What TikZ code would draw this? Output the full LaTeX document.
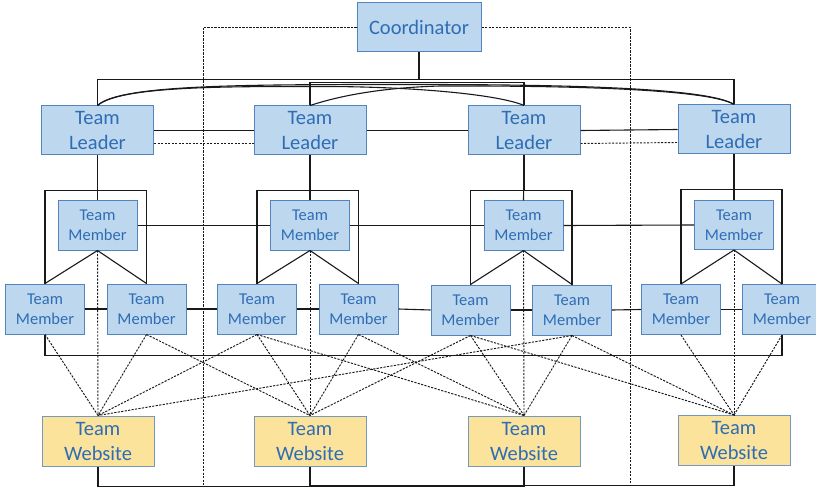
\documentclass[tikz,border=0pt]{standalone}
\usepackage{fontspec}
\setmainfont{Carlito}
\usetikzlibrary{calc}

\definecolor{boxfill}{HTML}{BDD7EE}
\definecolor{boxline}{HTML}{5384BE}
\definecolor{webfill}{HTML}{FCE39B}
\definecolor{webline}{HTML}{7598BF}
\definecolor{labelblue}{HTML}{2E6DB5}

\tikzset{
  box/.style={draw=boxline, line width=1pt, fill=boxfill, text=labelblue,
    align=center, inner sep=0pt, minimum height=49pt},
  bigbox/.style={box, minimum width=112pt, font=\fontsize{20.5}{25}\selectfont},
  memberbox/.style={box, minimum width=79pt, minimum height=50pt,
    font=\fontsize{16.5}{20}\selectfont},
  sitebox/.style={bigbox, fill=webfill, draw=webline, minimum height=50pt},
  link/.style={line width=1.1pt, black!90},
  dotlink/.style={line width=0.95pt, black!90, dash pattern=on 2.2pt off 1.3pt},
}

\begin{document}
\begin{tikzpicture}[x=1pt, y=-1pt]
\useasboundingbox (0,0) rectangle (816,489);

% coordinator
\node[bigbox, minimum width=124pt] (coord) at (419,27.5) {Coordinator};

% team leaders
\node[bigbox] (tl1) at (97.5,130.5) {Team\\Leader};
\node[bigbox] (tl2) at (310,130.5) {Team\\Leader};
\node[bigbox] (tl3) at (524,130.5) {Team\\Leader};
\node[bigbox] (tl4) at (734,129.5) {Team\\Leader};

% upper team members
\node[memberbox, minimum height=49pt] (tm1) at (97.5,225.5) {Team\\Member};
\node[memberbox, minimum height=49pt] (tm2) at (310,225.5) {Team\\Member};
\node[memberbox, minimum height=49pt] (tm3) at (523.5,225.5) {Team\\Member};
\node[memberbox, minimum height=49pt] (tm4) at (734,225) {Team\\Member};

% lower team members
\node[memberbox] (bm1a) at (45,309) {Team\\Member};
\node[memberbox] (bm1b) at (146.5,309) {Team\\Member};
\node[memberbox] (bm2a) at (257,309) {Team\\Member};
\node[memberbox] (bm2b) at (358.5,309) {Team\\Member};
\node[memberbox] (bm3a) at (470.5,310) {Team\\Member};
\node[memberbox] (bm3b) at (572,310) {Team\\Member};
\node[memberbox] (bm4a) at (681,309.5) {Team\\Member};
\node[memberbox] (bm4b) at (782,309.5) {Team\\Member};

% team websites
\node[sitebox] (tw1) at (98,441) {Team\\Website};
\node[sitebox] (tw2) at (310,441) {Team\\Website};
\node[sitebox] (tw3) at (524,441) {Team\\Website};
\node[sitebox] (tw4) at (734,440.5) {Team\\Website};

% ends of the coordinator's dotted lines on the bottom rail
\coordinate (cl) at (203,486);
\coordinate (cr) at (630,486);

% coordinator to outer leaders, inner leaders joined
\draw[link] (coord.south) -- ++(0,27) -| (tl1.north);
\draw[link] (coord.south) -- ++(0,27) -| (tl4.north);
\draw[link] (tl2.north) -- ++(0,-23) -| (tl3.north);

% curved leader links
\draw[link] (tl1.north) .. controls (120,84) and (250,84.5) .. (419,84.5)
  .. controls (600,84.5) and (712,90) .. (tl4.north);
\draw[link] (tl1.north) .. controls (121,85.5) and (230,86.5) .. (330,86.5)
  .. controls (420,87) and (500,95) .. (tl3.north);
\draw[link] (tl2.north) .. controls (330,99) and (370,88) .. (440,86)
  .. controls (600,85.5) and (712,91) .. (tl4.north);

% leader to leader
\draw[link] (tl1.east) -- (tl2.west);
\draw[link] (tl2.east) -- (tl3.west);
\draw[link] (tl3.east) -- (tl4.west);
\draw[dotlink] ([yshift=-12.5pt]tl1.east) -- ([yshift=-12.5pt]tl2.west);
\draw[dotlink] ([yshift=-13pt]tl3.east) -- ([yshift=-13pt]tl4.west);

% coordinator dotted lines
\draw[dotlink] (coord.west) -| (cl);
\draw[dotlink] (coord.east) -| (cr);

% leaders to their teams
\foreach \g in {1,2,3,4}{
  \draw[link] (tl\g.south) -- (tm\g.north);
  \draw[link] (tl\g.south) -- ++(0,35) -| (bm\g a.north);
  \draw[link] (tl\g.south) -- ++(0,35) -| (bm\g b.north);
  \draw[link] (tm\g.south) -- (bm\g a.north);
  \draw[link] (tm\g.south) -- (bm\g b.north);
  \draw[dotlink] (tm\g.south) -- (tw\g.north);
  \draw[dotlink] (bm\g a.south) -- (tw\g.north);
  \draw[dotlink] (bm\g b.south) -- (tw\g.north);
}

% member to member
\draw[link] (tm1.east) -- (tm2.west);
\draw[link] (tm2.east) -- (tm3.west);
\draw[link] (tm3.east) -- (tm4.west);
\draw[link] (bm1a.east) -- (bm1b.west);
\draw[link] (bm1b.east) -- (bm2a.west);
\draw[link] (bm2a.east) -- (bm2b.west);
\draw[link] (bm2b.east) -- (bm3a.west);
\draw[link] (bm3a.east) -- (bm3b.west);
\draw[link] (bm3b.east) -- (bm4a.west);
\draw[link] (bm4a.east) -- (bm4b.west);
\draw[link] (bm1a.south) -- ++(0,21) -| (bm4b.south);

% members to other teams' websites
\draw[dotlink] (bm1b.south) -- (tw2.north);
\draw[dotlink] (bm2a.south) -- (tw1.north);
\draw[dotlink] (bm2a.south) -- (tw3.north);
\draw[dotlink] (bm2b.south) -- (tw3.north);
\draw[dotlink] (bm3a.south) -- (tw2.north);
\draw[dotlink] (bm3a.south) -- (tw4.north);
\draw[dotlink] (bm3b.south) -- (tw1.north);
\draw[dotlink] (bm3b.south) -- (tw4.north);

% websites joined along the bottom
\draw[link] (tw1.south) -- ++(0,20) -| (tw2.south);
\draw[link] (tw2.south) -- ++(0,19.5) -| (tw3.south);
\draw[link] (tw3.south) -- ++(0,19) -| (tw4.south);
\end{tikzpicture}
\end{document}
